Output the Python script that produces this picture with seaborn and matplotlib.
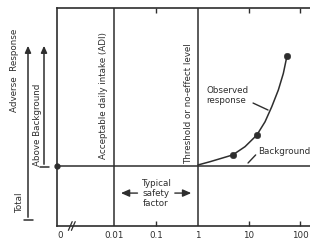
import numpy as np
import pandas as pd
import matplotlib
matplotlib.use("Agg")
import matplotlib.pyplot as plt
import seaborn as sns

# ---- data ----
tick_values = [10**-3.29, 0.01, 0.1, 1, 10, 100]
tick_labels = ["0", "0.01", "0.1", "1", "10", "100"]
minor_ticks = [0.1, 10, 100]
adi_dose = 0.01
threshold_dose = 1
background_level = 27.5
curve_dose = [1, 1.72, 2.92, 4.79, 8.35, 14.2, 20.6, 27.9, 37.6, 47.1, 55.5]
curve_resp = [28.0, 29.5, 31.1, 32.6, 36.4, 41.7, 47.8, 54.7, 62.4, 70.0, 78.0]
obs_dose = [4.79, 14.2, 55.5]
obs_resp = [32.6, 41.7, 78.0]

sns.set_style("white")
plt.rcParams["font.family"] = ["DejaVu Sans"]
INK = "#2e2e2e"
FS = 6.3

fig = plt.figure(figsize=(3.1, 2.42), dpi=100)
ax = fig.add_axes([57/310, 1-226/242, 1-57/310, (226-8)/242])

def fwd(x):
    x = np.asarray(x, dtype=float)
    with np.errstate(divide="ignore", invalid="ignore"):
        l = np.log10(np.where(x > 0, x, 1e-12))
    return np.where(l <= 0, l*42.0, l*51.0)

def inv(v):
    v = np.asarray(v, dtype=float)
    return 10**np.where(v <= 0, v/42.0, v/51.0)

ax.set_xscale("function", functions=(fwd, inv))
ax.set_xlim(10**-3.36, 10**2.196)
ax.set_ylim(0, 100)

df = pd.DataFrame({"dose": curve_dose, "resp": curve_resp})
sns.lineplot(data=df, x="dose", y="resp", ax=ax, color=INK, lw=1.1)
sns.scatterplot(x=obs_dose, y=obs_resp, ax=ax, color=INK, s=22, edgecolor=INK, zorder=5)

ax.axvline(adi_dose, color=INK, lw=1.1)
ax.axvline(threshold_dose, color=INK, lw=1.1)
ax.axhline(background_level, color=INK, lw=1.1)
ax.plot([10**-3.36], [background_level], "o", color=INK, ms=3.5, clip_on=False, zorder=6)

for s in ["left", "bottom", "top"]:
    ax.spines[s].set_color(INK)
    ax.spines[s].set_linewidth(1.2)
ax.spines["right"].set_visible(False)

ax.xaxis.remove_overlapping_locs = False
ax.set_xticks(tick_values)
ax.set_xticklabels(tick_labels, fontsize=FS, color=INK)
ax.set_xticks(minor_ticks, minor=True)
ax.tick_params(axis="x", which="major", length=0, pad=3.5)
ax.tick_params(axis="x", which="minor", direction="in", length=3.5, width=1, color=INK,
               top=True, bottom=True)
ax.set_yticks([])
ax.set_xlabel("")
ax.set_ylabel("")

# axis break mark
for dx in (0.0, 0.012):
    ax.plot([0.045+dx, 0.06+dx], [-0.02, 0.02], transform=ax.transAxes, color=INK,
            lw=0.9, clip_on=False)

# vertical labels in the panel
ax.text(10**(-2 - 11/42), 60, "Acceptable daily intake (ADI)", rotation=90,
        ha="center", va="center", fontsize=FS, color=INK)
ax.text(10**(-10/42), 56, "Threshold or no-effect level", rotation=90,
        ha="center", va="center", fontsize=FS, color=INK)

# safety factor
ax.text(0.1, 15.1, "Typical\nsafety\nfactor", ha="center", va="center",
        fontsize=FS, color=INK, linespacing=1.15)
ax.annotate("", xy=(0.0125, 15.1), xytext=(0.042, 15.1),
            arrowprops=dict(arrowstyle="-|>,head_length=0.5,head_width=0.22", color=INK, lw=1))
ax.annotate("", xy=(0.80, 15.1), xytext=(0.24, 15.1),
            arrowprops=dict(arrowstyle="-|>,head_length=0.5,head_width=0.22", color=INK, lw=1))

# observed response
ax.text(1.45, 60.0, "Observed\nresponse", ha="left", va="center", fontsize=FS,
        color=INK, linespacing=1.15)
ax.plot([12.0, 23.6], [56.4, 53.2], color=INK, lw=1)
ax.text(15, 34, "Background", ha="left", va="center", fontsize=FS, color=INK)
ax.plot([9.56, 13.5], [28.9, 32.6], color=INK, lw=1)

# left side arrows and labels
def fx(px):
    return px/310
def fy(py):
    return 1 - py/242

for x, y0 in ((28, 220), (44, 167)):
    fig.add_artist(matplotlib.patches.FancyArrowPatch(
        (fx(x), fy(y0)), (fx(x), fy(43)), transform=fig.transFigure,
        arrowstyle="-|>,head_length=4,head_width=1.8", color=INK, lw=1.1))
    fig.add_artist(matplotlib.lines.Line2D([fx(x-4.5), fx(x+4.5)], [fy(y0), fy(y0)],
                                           transform=fig.transFigure, color=INK, lw=1.1))

fig.text(fx(15), fy(70), "Adverse  Response", rotation=90, ha="center", va="center",
         fontsize=FS, color=INK)
fig.text(fx(37), fy(125), "Above Background", rotation=90, ha="center", va="center",
         fontsize=FS, color=INK)
fig.text(fx(20), fy(203), "Total", rotation=90, ha="center", va="center",
         fontsize=FS, color=INK)

fig.savefig("out.png", dpi=100, facecolor="white")
